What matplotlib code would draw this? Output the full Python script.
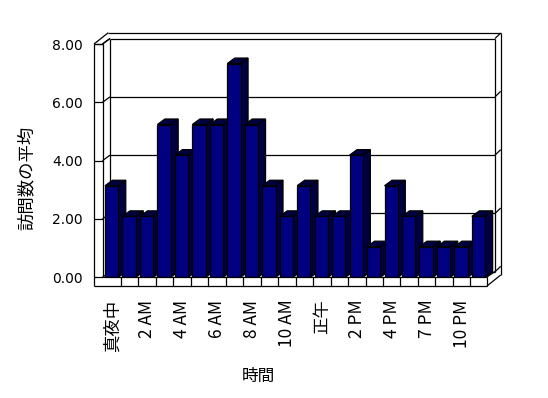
import matplotlib
matplotlib.use('Agg')
import matplotlib.pyplot as plt
from matplotlib.patches import Polygon

# ---- data ----
hours = ['0', '1', '2', '3', '4', '5', '6', '7', '8', '9', '10', '11',
         '12', '13', '14', '15', '16', '17', '19', '20', '22', '23']
avg_visits = [3.14, 2.09, 2.09, 5.24, 4.19, 5.24, 5.24, 7.33, 5.24, 3.14, 2.09,
              3.14, 2.09, 2.09, 4.19, 1.05, 3.14, 2.09, 1.05, 1.05, 1.05, 2.09]
tick_labels = ['真夜中', '2 AM', '4 AM', '6 AM', '8 AM', '10 AM', '正午',
               '2 PM', '4 PM', '7 PM', '10 PM']
y_ticks = [0, 2, 4, 6, 8]
y_tick_labels = ['0.00', '2.00', '4.00', '6.00', '8.00']
y_title = '訪問数の平均'
x_title = '時間'

# ---- layout (pixel based) ----
W, H = 548, 398
AX_L, CELL = 103.5, 17.47
Y0, UNIT = 277.3, 29.16
n = len(avg_visits)

fig = plt.figure(figsize=(W / 100, H / 100), dpi=100)
fig.patch.set_facecolor('white')
ax = fig.add_axes([AX_L / W, (H - Y0) / H, n * CELL / W, 8 * UNIT / H])
ax.set_xlim(0, n)
ax.set_ylim(0, 8)
for s in ax.spines.values():
    s.set_visible(False)
ax.set_facecolor('none')


def P(x, y):
    return ((x - AX_L) / CELL, (Y0 - y) / UNIT)


def line(pts, z=1):
    xs = [P(*p)[0] for p in pts]
    ys = [P(*p)[1] for p in pts]
    ax.plot(xs, ys, color='black', lw=0.9, clip_on=False, zorder=z,
            solid_capstyle='butt')


# walls
line([(94, 44), (94, 286)])
line([(102.5, 44), (102.5, 277)])
line([(94, 44), (102.5, 44)])
line([(94, 44), (108.3, 32.7)])
line([(102.5, 44), (110, 38.5)])
line([(110, 38.5), (110, 271.5)])
line([(108.3, 32.7), (500.7, 32.7)])
line([(500.7, 32.7), (500.7, 275)])
line([(495, 38.5), (495, 271.5)])

# gridlines on walls
for v in y_ticks:
    yf = Y0 - v * UNIT
    yb = yf - 5.5
    line([(94, yf), (102.5, yf)])
    line([(102.5, yf), (110, yb)])
    line([(110, yb), (495, yb)])
    line([(495, yb), (500.7, yb - 5.5)])

# floor
line([(94, 286), (487, 286)], z=6)
line([(102.5, 277), (487, 277)], z=6)
line([(487, 277), (487, 286)], z=6)
line([(487, 286), (500.7, 275)], z=6)
line([(487, 277), (495, 271.5)], z=6)
for i in range(1, n):
    ax.plot([i, i], [0, -9 / UNIT], color='black', lw=0.9, clip_on=False,
            zorder=6)

# bars
x = [i + 0.466 for i in range(n)]
bw = 0.76
ddx, ddy = 7.5 / CELL, 5.5 / UNIT
ax.bar(x, avg_visits, width=bw, color='#000080', edgecolor='black',
       linewidth=0.9, zorder=5)
for xi, v in zip(x, avg_visits):
    l, r = xi - bw / 2, xi + bw / 2
    side = Polygon([(r, 0), (r, v), (r + ddx, v + ddy), (r + ddx, ddy)],
                   closed=True, facecolor='#000040', edgecolor='black',
                   linewidth=0.9, zorder=4, clip_on=False)
    top = Polygon([(l, v), (r, v), (r + ddx, v + ddy), (l + ddx, v + ddy)],
                  closed=True, facecolor='#000040', edgecolor='black',
                  linewidth=0.9, zorder=4, clip_on=False)
    ax.add_patch(side)
    ax.add_patch(top)

# ticks
ax.set_xticks([i + 0.5 for i in range(0, n, 2)])
ax.set_xticklabels(tick_labels, rotation=90, fontsize=12.5,
                   family=['Noto Sans CJK JP', 'DejaVu Sans'])
ax.tick_params(axis='x', length=0, pad=16)
ax.set_yticks(y_ticks)
ax.set_yticklabels(y_tick_labels, fontsize=10, family=['DejaVu Sans'])
ax.tick_params(axis='y', length=0, pad=15)

fig.text(27 / W, 1 - 178 / H, y_title, rotation=90, ha='center', va='center',
         fontsize=12.5, family=['Noto Sans CJK JP', 'DejaVu Sans'])
fig.text(258 / W, 1 - 376 / H, x_title, ha='center', va='center',
         fontsize=12, family=['Noto Sans CJK JP', 'DejaVu Sans'])

fig.savefig('out.png', dpi=100, facecolor='white')
